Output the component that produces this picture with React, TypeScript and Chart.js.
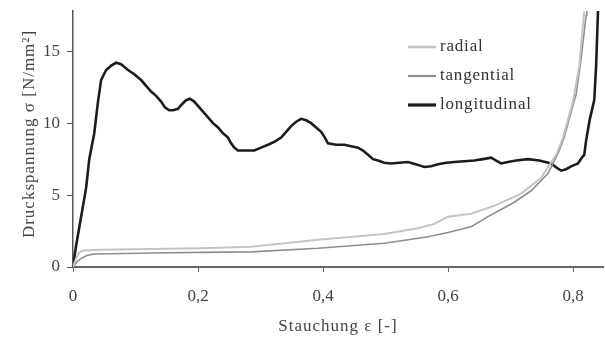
import React, { useEffect, useRef } from "react";
import { Chart, registerables } from "chart.js";

Chart.register(...registerables);

// Strain values (Stauchung) and stress values (Druckspannung)
const longX = [0, 0.005, 0.013, 0.021, 0.026, 0.034, 0.04, 0.045, 0.053, 0.061, 0.069, 0.077, 0.088, 0.098, 0.109, 0.117, 0.125, 0.133, 0.141, 0.147, 0.154, 0.16, 0.168, 0.174, 0.181, 0.187, 0.194, 0.2, 0.208, 0.216, 0.224, 0.232, 0.24, 0.248, 0.253, 0.258, 0.264, 0.277, 0.29, 0.301, 0.312, 0.322, 0.333, 0.341, 0.349, 0.357, 0.365, 0.373, 0.381, 0.389, 0.397, 0.403, 0.408, 0.421, 0.434, 0.445, 0.456, 0.464, 0.472, 0.48, 0.488, 0.498, 0.509, 0.522, 0.536, 0.544, 0.552, 0.562, 0.573, 0.584, 0.597, 0.61, 0.626, 0.642, 0.656, 0.669, 0.677, 0.685, 0.696, 0.709, 0.728, 0.746, 0.765, 0.774, 0.781, 0.789, 0.797, 0.808, 0.814, 0.818, 0.821, 0.827, 0.834, 0.837, 0.84];
const longY = [0, 1.5, 3.5, 5.5, 7.5, 9.3, 11.5, 13.0, 13.7, 14.0, 14.2, 14.1, 13.7, 13.4, 13.0, 12.6, 12.2, 11.9, 11.5, 11.1, 10.9, 10.9, 11.0, 11.3, 11.6, 11.7, 11.5, 11.2, 10.8, 10.4, 10.0, 9.7, 9.3, 9.0, 8.6, 8.3, 8.1, 8.1, 8.1, 8.3, 8.5, 8.7, 9.0, 9.4, 9.8, 10.1, 10.3, 10.2, 10.0, 9.7, 9.4, 9.0, 8.6, 8.5, 8.5, 8.4, 8.3, 8.1, 7.8, 7.5, 7.4, 7.25, 7.2, 7.25, 7.3, 7.2, 7.1, 6.95, 7.0, 7.15, 7.25, 7.3, 7.35, 7.4, 7.5, 7.6, 7.4, 7.2, 7.3, 7.4, 7.5, 7.4, 7.2, 6.9, 6.7, 6.8, 7.0, 7.2, 7.6, 7.8, 8.8, 10.3, 11.6, 14.0, 17.8];

const tangX = [0, 0.006, 0.013, 0.022, 0.034, 0.061, 0.125, 0.205, 0.285, 0.392, 0.498, 0.536, 0.568, 0.6, 0.637, 0.664, 0.685, 0.706, 0.733, 0.76, 0.776, 0.786, 0.792, 0.805, 0.813, 0.821, 0.822];
const tangY = [0, 0.35, 0.6, 0.8, 0.9, 0.92, 0.97, 1.02, 1.05, 1.3, 1.65, 1.9, 2.1, 2.4, 2.8, 3.5, 4.0, 4.5, 5.3, 6.5, 7.9, 9.0, 10.0, 12.0, 14.5, 17.5, 17.8];

const radX = [0, 0.005, 0.01, 0.016, 0.045, 0.125, 0.205, 0.285, 0.392, 0.498, 0.552, 0.578, 0.6, 0.637, 0.677, 0.717, 0.749, 0.773, 0.784, 0.8, 0.81, 0.818];
const radY = [0, 0.6, 1.0, 1.15, 1.2, 1.25, 1.3, 1.4, 1.9, 2.3, 2.7, 3.0, 3.5, 3.7, 4.3, 5.1, 6.2, 7.8, 9.0, 11.5, 14.0, 17.8];

const seriesNames = ["radial", "tangential", "longitudinal"];
const seriesColors = ["#c4c4c4", "#8e8e8e", "#1c1c1c"];
const seriesWidths = [2, 1.6, 2.6];

const xTickValues = [0, 0.2, 0.4, 0.6, 0.8];
const xTickLabels = ["0", "0,2", "0,4", "0,6", "0,8"];
const yTickValues = [0, 5, 10, 15];
const yTickLabels = ["0", "5", "10", "15"];

const xTitle = "Stauchung \u03b5 [-]";
const yTitle = "Druckspannung \u03c3 [N/mm\u00b2]";

const FONT = "'Liberation Serif', 'DejaVu Serif', serif";

const pts = (xs: number[], ys: number[]) => xs.map((x, i) => ({ x, y: ys[i] }));

export default function App() {
  const ref = useRef<HTMLCanvasElement | null>(null);
  useEffect(() => {
    if (!ref.current) return;
    const overlay = {
      id: "overlay",
      afterDraw(chart: any) {
        const ctx = chart.ctx as CanvasRenderingContext2D;
        ctx.save();
        // legend
        const ly = [47, 76, 105];
        ctx.font = `17px ${FONT}`;
        (ctx as any).letterSpacing = "0.8px";
        ctx.textBaseline = "middle";
        ctx.textAlign = "left";
        seriesNames.forEach((n, i) => {
          ctx.strokeStyle = seriesColors[i];
          ctx.lineWidth = seriesWidths[i] + 0.6;
          ctx.beginPath();
          ctx.moveTo(408, ly[i]);
          ctx.lineTo(436, ly[i]);
          ctx.stroke();
          ctx.fillStyle = "#333";
          ctx.fillText(n, 440, ly[i]);
        });
        // axis titles
        ctx.fillStyle = "#444";
        ctx.font = `17px ${FONT}`;
        (ctx as any).letterSpacing = "1px";
        ctx.textAlign = "center";
        ctx.fillText(xTitle, 338, 327);
        ctx.translate(30, 134);
        ctx.rotate(-Math.PI / 2);
        ctx.fillText(yTitle, 0, 0);
        ctx.restore();
        (ctx as any).letterSpacing = "0px";
      },
    };
    const chart = new Chart(ref.current, {
      type: "line",
      data: {
        datasets: [
          { label: seriesNames[0], data: pts(radX, radY), borderColor: seriesColors[0], borderWidth: seriesWidths[0] },
          { label: seriesNames[1], data: pts(tangX, tangY), borderColor: seriesColors[1], borderWidth: seriesWidths[1] },
          { label: seriesNames[2], data: pts(longX, longY), borderColor: seriesColors[2], borderWidth: seriesWidths[2] },
        ].map((d) => ({ ...d, pointRadius: 0, tension: 0, fill: false })),
      },
      options: {
        animation: false,
        responsive: false,
        maintainAspectRatio: false,
        layout: { padding: { left: 0, right: 2, top: 11, bottom: 0 } },
        plugins: { legend: { display: false }, tooltip: { enabled: false } },
        scales: {
          x: {
            type: "linear",
            min: 0,
            max: 0.848,
            afterBuildTicks: (s: any) => {
              s.ticks = xTickValues.map((v) => ({ value: v }));
            },
            afterFit: (s: any) => {
              s.height = 72;
              s.paddingLeft = 0;
              s.paddingRight = 0;
            },
            grid: { drawOnChartArea: false, drawTicks: true, tickLength: 5, color: "#666", lineWidth: 1 },
            border: { display: true, color: "#666", width: 2 },
            ticks: {
              padding: 14,
              color: "#444",
              font: { family: FONT, size: 17 },
              callback: (v: any) => {
                const i = xTickValues.findIndex((t) => Math.abs(t - v) < 1e-6);
                return i >= 0 ? xTickLabels[i] : "";
              },
            },
          },
          y: {
            type: "linear",
            min: 0,
            max: 17.8,
            afterBuildTicks: (s: any) => {
              s.ticks = yTickValues.map((v) => ({ value: v }));
            },
            afterFit: (s: any) => {
              s.width = 73;
              s.paddingTop = 0;
              s.paddingBottom = 0;
            },
            grid: { drawOnChartArea: false, drawTicks: true, tickLength: 6, color: "#555", lineWidth: 1 },
            border: { display: true, color: "#555", width: 1.5 },
            ticks: {
              padding: 7,
              color: "#444",
              font: { family: FONT, size: 17 },
              callback: (v: any) => {
                const i = yTickValues.findIndex((t) => Math.abs(t - v) < 1e-6);
                return i >= 0 ? yTickLabels[i] : "";
              },
            },
          },
        },
      },
      plugins: [overlay],
    } as any);
    return () => chart.destroy();
  }, []);
  return (
    <div style={{ position: "fixed", left: 0, top: 0, width: 605, height: 339, background: "#fff" }}>
      <canvas ref={ref} width={605} height={339} style={{ width: 605, height: 339 }} />
    </div>
  );
}
